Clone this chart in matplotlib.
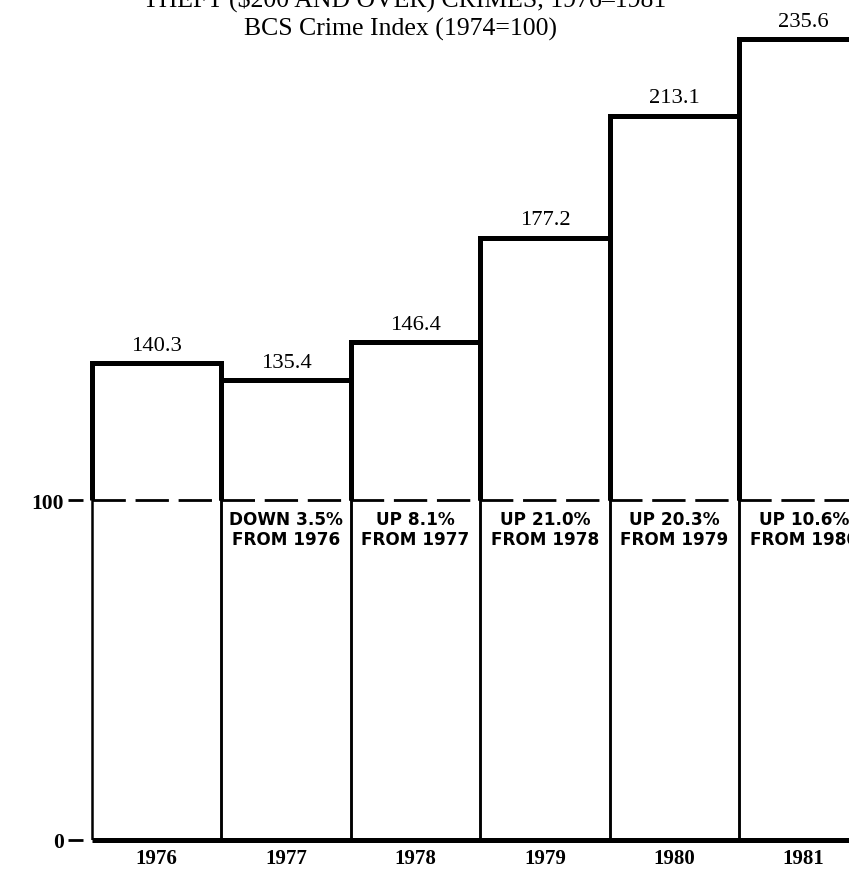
import numpy as np
import matplotlib
matplotlib.use("Agg")
import matplotlib.pyplot as plt

years = ['1976', '1977', '1978', '1979', '1980', '1981']
index_values = [140.3, 135.4, 146.4, 177.2, 213.1, 235.6]
value_labels = ['140.3', '135.4', '146.4', '177.2', '213.1', '235.6']
change_labels = ['', 'DOWN 3.5%\nFROM 1976', 'UP 8.1%\nFROM 1977', 'UP 21.0%\nFROM 1978',
                 'UP 20.3%\nFROM 1979', 'UP 10.6%\nFROM 1980']
baseline = 100
title_line1 = 'THEFT ($200 AND OVER) CRIMES, 1976\u20131981'
title_line2 = 'BCS Crime Index (1974=100)'

W, H = 849, 870
fig = plt.figure(figsize=(W / 100, H / 100), dpi=100)
ax_left = 83 / W
ax_bottom = 29 / H
ax = fig.add_axes([ax_left, ax_bottom, 1 - ax_left, 1 - ax_bottom])

x = np.arange(len(years))
serif = 'Liberation Serif'

# thin full outlines
ax.bar(x, index_values, width=1.0, fill=False, edgecolor='black', linewidth=1.8, zorder=2)
# thick upper parts
thick = 3.6
ax.hlines(index_values, x - 0.5, x + 0.5, colors='black', linewidth=thick, zorder=3,
          clip_on=False, capstyle='projecting')
ax.vlines(x - 0.5, baseline, index_values, colors='black', linewidth=thick, zorder=3)
ax.vlines(x + 0.5, baseline, index_values, colors='black', linewidth=thick, zorder=3)
# dashed 100 line
ax.hlines(baseline, x[0] - 0.5, x[-1] + 0.5, colors='black', linewidth=2.0,
          linestyles=(0, (12, 3.5)), zorder=3)
# baseline at zero
ax.hlines(0, x[0] - 0.5, x[-1] + 0.5, colors='black', linewidth=thick, zorder=3, clip_on=False)

for xi, v, lab in zip(x, index_values, value_labels):
    ax.annotate(lab, (xi, v), xytext=(0, 9.5), textcoords='offset points',
                ha='center', va='baseline', fontsize=16.2, family=serif)

for xi, lab in zip(x, change_labels):
    if lab:
        ax.annotate(lab, (xi, baseline), xytext=(0, -7.5), textcoords='offset points',
                    ha='center', va='top', fontsize=12.2, family='DejaVu Sans',
                    fontweight='bold', linespacing=1.12, annotation_clip=False)

ax.set_xlim(-0.5 - 9 / 129.4, -0.5 + (W - 92) / 129.4)
ax.set_ylim(0, 247.4)

for s in ax.spines.values():
    s.set_visible(False)

ax.set_xticks(x)
ax.set_xticklabels(years, fontsize=15, fontweight='bold', family=serif)
ax.tick_params(axis='x', length=0, pad=5.5)
ax.set_yticks([0, baseline])
ax.set_yticklabels(['0', '100'], fontsize=15.5, fontweight='bold', family=serif)
ax.tick_params(axis='y', length=10.5, width=2, pad=3.5)
ax.patch.set_alpha(0)

fig.text(405 / W, 1 - 7 / H, title_line1, ha='center', va='baseline',
         fontsize=18.5, family=serif)
fig.text(400 / W, 1 - 36 / H, title_line2, ha='center', va='baseline',
         fontsize=18.5, family=serif)

fig.savefig('out.png', dpi=100, facecolor='white')
